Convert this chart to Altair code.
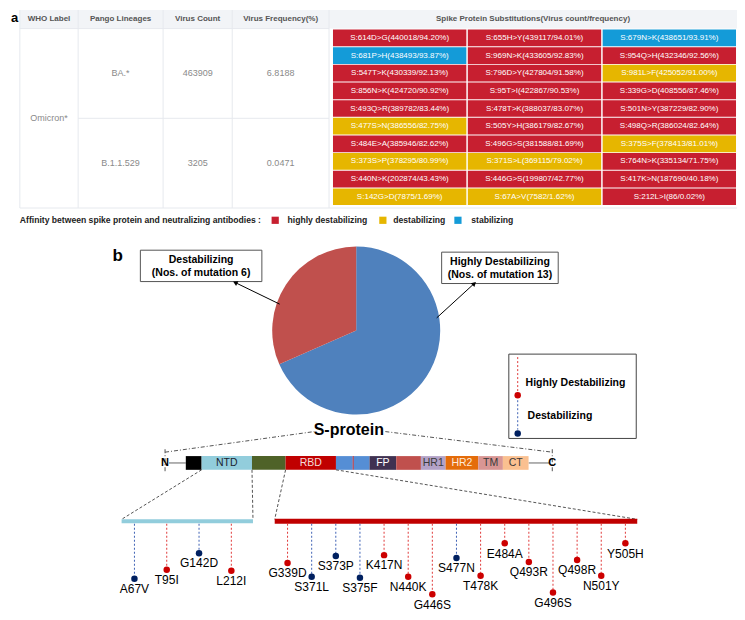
import altair as alt
import pandas as pd

# ---------------- data ----------------
TABLE_HEADERS = ["WHO Label", "Pango Lineages", "Virus Count", "Virus Frequency(%)"]
SPIKE_HEADER = "Spike Protein Substitutions(Virus count/frequency)"
WHO_LABEL = ["Omicron*"]
PANGO_LINEAGES = ["BA.*", "B.1.1.529"]
VIRUS_COUNT = [463909, 3205]
VIRUS_FREQUENCY = [6.8188, 0.0471]

SUBSTITUTIONS = ["S:614D>G", "S:655H>Y", "S:679N>K", "S:681P>H", "S:969N>K", "S:954Q>H",
                 "S:547T>K", "S:796D>Y", "S:981L>F", "S:856N>K", "S:95T>I", "S:339G>D",
                 "S:493Q>R", "S:478T>K", "S:501N>Y", "S:477S>N", "S:505Y>H", "S:498Q>R",
                 "S:484E>A", "S:496G>S", "S:375S>F", "S:373S>P", "S:371S>L", "S:764N>K",
                 "S:440N>K", "S:446G>S", "S:417K>N", "S:142G>D", "S:67A>V", "S:212L>I"]
SUB_COUNT = [440018, 439117, 438651, 438493, 433605, 432346, 430339, 427804, 425052, 424720,
             422867, 408556, 389782, 388037, 387229, 386556, 386179, 386024, 385946, 381588,
             378413, 378295, 369115, 335134, 202874, 199807, 187690, 7875, 7582, 86]
SUB_FREQ = [94.20, 94.01, 93.91, 93.87, 92.83, 92.56, 92.13, 91.58, 91.00, 90.92,
            90.53, 87.46, 83.44, 83.07, 82.90, 82.75, 82.67, 82.64, 82.62, 81.69,
            81.01, 80.99, 79.02, 71.75, 43.43, 42.77, 40.18, 1.69, 1.62, 0.02]
# H = highly destabilizing, D = destabilizing, S = stabilizing
SUB_AFFINITY = ["H", "H", "S", "S", "H", "H", "H", "H", "D", "H",
                "H", "H", "H", "H", "H", "D", "H", "H", "H", "H",
                "D", "D", "D", "H", "H", "H", "H", "D", "D", "H"]
AFFINITY_CODES = ["H", "D", "S"]
AFFINITY_NAMES = ["highly destabilizing", "destabilizing", "stabilizing"]
LEGEND_TITLE = "Affinity between spike protein and neutralizing antibodies :"

NTD_MUTATIONS = ["A67V", "T95I", "G142D", "L212I"]
NTD_CLASS = ["D", "H", "D", "H"]
RBD_MUTATIONS = ["G339D", "S371L", "S373P", "S375F", "K417N", "N440K", "G446S", "S477N",
                 "T478K", "E484A", "Q493R", "G496S", "Q498R", "N501Y", "Y505H"]
RBD_CLASS = ["H", "D", "D", "D", "H", "H", "H", "D", "H", "H", "H", "H", "H", "H", "H"]

PIE_NAMES = ["Highly Destabilizing", "Destabilizing"]
PIE_CODES = ["H", "D"]

DOMAIN_LABELS = ["", "NTD", "", "RBD", "", "", "", "FP", "", "HR1", "HR2", "TM", "CT"]

# ---------------- styles / layout ----------------
FONT = "Arial, Liberation Sans, sans-serif"
TABLE_COLORS = {"H": "#c71f30", "D": "#e6b600", "S": "#149bd8"}
PIE_COLORS = {"H": "#4f81bd", "D": "#c0504d"}
DOT_COLORS = {"H": "#cc0000", "D": "#002060"}
STEM_COLORS = {"H": "#e03a3a", "D": "#3f62b5"}
DOMAIN_WIDTHS = [16, 51, 34, 51, 17, 1, 16, 27, 25, 25, 33, 25, 26]
DOMAIN_FILL = ["#000000", "#92cddc", "#4f6228", "#c00000", "#558ed5", "#c00000", "#558ed5",
               "#403151", "#c0504d", "#b3a2c7", "#e46c0a", "#d99694", "#fac090"]
DOMAIN_TEXT = ["#000", "#1b2430", "#fff", "#f2dcdb", "#fff", "#fff", "#fff",
               "#ffffff", "#fff", "#3a3a3a", "#fde9d9", "#3a3a3a", "#3a3a3a"]
NTD_DOT_Y = [588, 579, 562, 580]
RBD_DOT_Y = [572, 586, 565, 587, 564, 586, 604, 567, 585, 552, 571, 602, 569, 585, 552]

X = alt.Scale(domain=[3, 741], nice=False, zero=False)
Y = alt.Scale(domain=[6, 622], nice=False, zero=False, reverse=True)


def rect_layer(df, **mk):
    enc = dict(x=alt.X("x0:Q", scale=X, axis=None), x2="x1:Q",
               y=alt.Y("y0:Q", scale=Y, axis=None), y2="y1:Q")
    if "fill" in df:
        enc["fill"] = alt.Fill("fill:N", scale=None)
    return alt.Chart(df).mark_rect(**mk).encode(**enc)


def seg_layer(df, **mk):
    enc = dict(x=alt.X("x0:Q", scale=X, axis=None), x2="x1:Q",
               y=alt.Y("y0:Q", scale=Y, axis=None), y2="y1:Q")
    if "color" in df:
        enc["color"] = alt.Color("color:N", scale=None)
    return alt.Chart(df).mark_rule(**mk).encode(**enc)


def text_layer(df, **mk):
    enc = dict(x=alt.X("x:Q", scale=X, axis=None), y=alt.Y("y:Q", scale=Y, axis=None),
               text="text:N")
    if "color" in df:
        enc["color"] = alt.Color("color:N", scale=None)
    mk.setdefault("font", FONT)
    return alt.Chart(df).mark_text(**mk).encode(**enc)


def point_layer(df, **mk):
    enc = dict(x=alt.X("x:Q", scale=X, axis=None), y=alt.Y("y:Q", scale=Y, axis=None))
    if "color" in df:
        enc["color"] = alt.Color("color:N", scale=None)
    if "ang" in df:
        enc["angle"] = alt.Angle("ang:Q", scale=None)
    return alt.Chart(df).mark_point(**mk).encode(**enc)


layers = []

# ---------- panel a: table ----------
COL_EDGES = [15, 74, 160, 230, 328]
TBL_RIGHT, HEAD_TOP, HEAD_BOT, BODY_BOT = 741, 8, 27, 210
ROW_SPLIT = (HEAD_BOT + BODY_BOT) / 2

layers.append(rect_layer(pd.DataFrame({"x0": [COL_EDGES[0]], "x1": [TBL_RIGHT],
                                       "y0": [HEAD_TOP], "y1": [HEAD_BOT]}), color="#f2f4f7"))

grid = pd.DataFrame({
    "x0": COL_EDGES + [COL_EDGES[0], COL_EDGES[1], COL_EDGES[0]],
    "x1": COL_EDGES + [COL_EDGES[-1], COL_EDGES[-1], TBL_RIGHT],
    "y0": [HEAD_TOP] * 5 + [HEAD_BOT, ROW_SPLIT, BODY_BOT],
    "y1": [BODY_BOT] * 5 + [HEAD_BOT, ROW_SPLIT, BODY_BOT],
})
layers.append(seg_layer(grid, color="#e6e9ee", strokeWidth=1))

col_centers = [(COL_EDGES[i] + COL_EDGES[i + 1]) / 2 for i in range(4)]
head_df = pd.DataFrame({"x": col_centers + [(COL_EDGES[-1] + TBL_RIGHT) / 2],
                        "y": [(HEAD_TOP + HEAD_BOT) / 2] * 5,
                        "text": TABLE_HEADERS + [SPIKE_HEADER]})
layers.append(text_layer(head_df, fontSize=8, fontWeight="bold", color="#555555"))

row_centers = [(HEAD_BOT + ROW_SPLIT) / 2, (ROW_SPLIT + BODY_BOT) / 2]
body_rows = [{"x": col_centers[0], "y": (HEAD_BOT + BODY_BOT) / 2, "text": WHO_LABEL[0]}]
for i in range(2):
    body_rows.append({"x": col_centers[1], "y": row_centers[i], "text": PANGO_LINEAGES[i]})
    body_rows.append({"x": col_centers[2], "y": row_centers[i], "text": str(VIRUS_COUNT[i])})
    body_rows.append({"x": col_centers[3], "y": row_centers[i], "text": f"{VIRUS_FREQUENCY[i]:.4f}"})
layers.append(text_layer(pd.DataFrame(body_rows), fontSize=9, color="#8a8a8a"))

CELL_X0, CELL_PX, CELL_W = 332, 136.5, 135
CELL_Y0, CELL_PY, CELL_H = 28, 18, 17
cells = []
for k, s in enumerate(SUBSTITUTIONS):
    r, c = divmod(k, 3)
    x0 = CELL_X0 + c * CELL_PX
    y0 = CELL_Y0 + r * CELL_PY
    cells.append({"x0": x0, "x1": x0 + CELL_W, "y0": y0, "y1": y0 + CELL_H,
                  "x": x0 + CELL_W / 2, "y": y0 + CELL_H / 2,
                  "fill": TABLE_COLORS[SUB_AFFINITY[k]],
                  "text": f"{s}({SUB_COUNT[k]}/{SUB_FREQ[k]:.2f}%)"})
cells = pd.DataFrame(cells)
layers.append(rect_layer(cells))
layers.append(text_layer(cells[["x", "y", "text"]], fontSize=8, color="white"))

# legend row
LEG_Y = 222.5
layers.append(text_layer(pd.DataFrame({"x": [15], "y": [LEG_Y], "text": [LEGEND_TITLE]}),
                         align="left", fontSize=8.6, fontWeight="bold", color="#222222"))
leg_sq_x = [273.5, 382.5, 458.5]
leg_tx_x = [286, 393, 472]
layers.append(point_layer(pd.DataFrame({"x": leg_sq_x, "y": [LEG_Y] * 3,
                                        "color": [TABLE_COLORS[c] for c in AFFINITY_CODES]}),
                          shape="square", filled=True, size=52, opacity=1))
layers.append(text_layer(pd.DataFrame({"x": leg_tx_x, "y": [LEG_Y] * 3, "text": AFFINITY_NAMES}),
                         align="left", fontSize=8.6, fontWeight="bold", color="#222222"))

# panel letters
layers.append(text_layer(pd.DataFrame({"x": [6], "y": [16], "text": ["a"]}),
                         align="left", fontSize=13, fontWeight="bold", color="black"))
layers.append(text_layer(pd.DataFrame({"x": [114], "y": [259], "text": ["b"]}),
                         fontSize=17, fontWeight="bold", color="black"))

# ---------- panel b: pie ----------
all_class = NTD_CLASS + RBD_CLASS
pie_counts = [sum(1 for c in all_class if c == code) for code in PIE_CODES]
PIE_CX, PIE_CY = 355.5, 335
pie_df = pd.DataFrame({"name": PIE_NAMES, "n": pie_counts, "rank": [0, 1],
                       "fill": [PIE_COLORS[c] for c in PIE_CODES],
                       "cx": [PIE_CX] * 2, "cy": [PIE_CY] * 2})
layers.append(alt.Chart(pie_df).mark_arc(radius=84).encode(
    theta=alt.Theta("n:Q", stack=True),
    order=alt.Order("rank:Q"),
    fill=alt.Fill("fill:N", scale=None),
    x=alt.X("cx:Q", scale=X, axis=None),
    y=alt.Y("cy:Q", scale=Y, axis=None),
))

boxes = pd.DataFrame({"x0": [442, 137], "x1": [560, 260], "y0": [255, 253], "y1": [287, 285]})
layers.append(rect_layer(boxes, fill="white", stroke="#555555", strokeWidth=1))
box_txt = []
for i, (name, n) in enumerate(zip(PIE_NAMES, pie_counts)):
    b = boxes.iloc[i]
    cx = (b.x0 + b.x1) / 2
    box_txt.append({"x": cx, "y": b.y0 + 10, "text": name})
    box_txt.append({"x": cx, "y": b.y0 + 23, "text": f"(Nos. of mutation {n})"})
layers.append(text_layer(pd.DataFrame(box_txt), fontSize=10.5, fontWeight="bold", color="black"))

arrows = pd.DataFrame({"x0": [437, 278], "y0": [322, 308], "x1": [475, 233], "y1": [287, 286]})
layers.append(seg_layer(arrows, color="black", strokeWidth=1))
heads = pd.DataFrame({"x": [475, 233], "y": [287, 286], "ang": [47, 296]})
layers.append(point_layer(heads, shape="triangle-up", filled=True, size=28, color="black", opacity=1))

# S-protein title and dash-dot guides
layers.append(text_layer(pd.DataFrame({"x": [348], "y": [436], "text": ["S-protein"]}),
                         fontSize=16, fontWeight="bold", color="black"))
N_X, C_X, BAR_Y0, BAR_Y1 = 162, 554, 463, 477
guides = pd.DataFrame({"x0": [N_X, 385, N_X, C_X], "y0": [459, 438, 456, 456],
                       "x1": [313, C_X, N_X, C_X], "y1": [438, 459, 480, 480]})
layers.append(seg_layer(guides, color="#555555", strokeWidth=1, strokeDash=[4, 2, 1, 2]))

# protein backbone and domains
DOM_START = 183
edges = [DOM_START]
for w in DOMAIN_WIDTHS:
    edges.append(edges[-1] + w)
layers.append(seg_layer(pd.DataFrame({"x0": [N_X + 4, edges[-1]], "x1": [edges[0], C_X - 3],
                                      "y0": [470, 470], "y1": [470, 470]}),
                        color="#7f7f7f", strokeWidth=1.2))
dom = pd.DataFrame({"x0": edges[:-1], "x1": edges[1:], "y0": [BAR_Y0] * 13, "y1": [BAR_Y1] * 13,
                    "fill": DOMAIN_FILL})
layers.append(rect_layer(dom))
dom_lab = pd.DataFrame({"x": [(edges[i] + edges[i + 1]) / 2 for i in range(13)],
                        "y": [470.5] * 13, "text": DOMAIN_LABELS, "color": DOMAIN_TEXT})
dom_lab = dom_lab[dom_lab.text != ""]
layers.append(text_layer(dom_lab, fontSize=10.5))
layers.append(text_layer(pd.DataFrame({"x": [N_X, C_X], "y": [470, 470], "text": ["N", "C"]}),
                         fontSize=11, fontWeight="bold", color="black"))

# zoom bars
NTD_IDX, RBD_IDX = DOMAIN_LABELS.index("NTD"), DOMAIN_LABELS.index("RBD")
ZB_Y = 529.5
NTD_ZOOM = (118, 251)
RBD_ZOOM = (273, 640)
zoom_lines = pd.DataFrame({
    "x0": [edges[NTD_IDX], edges[NTD_IDX + 1], edges[RBD_IDX], edges[RBD_IDX + 1]],
    "y0": [BAR_Y1] * 4,
    "x1": [NTD_ZOOM[0], NTD_ZOOM[1], RBD_ZOOM[0], RBD_ZOOM[1]],
    "y1": [ZB_Y - 2] * 4})
layers.append(seg_layer(zoom_lines, color="#555555", strokeWidth=1, strokeDash=[3, 2]))
layers.append(seg_layer(pd.DataFrame({"x0": [NTD_ZOOM[0]], "x1": [NTD_ZOOM[1]],
                                      "y0": [ZB_Y], "y1": [ZB_Y]}), color="#92cddc", strokeWidth=4))
layers.append(seg_layer(pd.DataFrame({"x0": [RBD_ZOOM[0]], "x1": [RBD_ZOOM[1]],
                                      "y0": [ZB_Y], "y1": [ZB_Y]}), color="#c00000", strokeWidth=5))

# lollipops
lol = []
ntd_step = 32.7
for i, (m, c) in enumerate(zip(NTD_MUTATIONS, NTD_CLASS)):
    lol.append({"x": 131 + i * ntd_step, "y": NTD_DOT_Y[i], "text": m, "cls": c})
rbd_step = (628 - 286) / (len(RBD_MUTATIONS) - 1)
for i, (m, c) in enumerate(zip(RBD_MUTATIONS, RBD_CLASS)):
    lol.append({"x": 286 + i * rbd_step, "y": RBD_DOT_Y[i], "text": m, "cls": c})
lol = pd.DataFrame(lol)
stems = pd.DataFrame({"x0": lol.x, "x1": lol.x, "y0": ZB_Y + 2.5, "y1": lol.y - 3,
                      "color": [STEM_COLORS[c] for c in lol.cls]})
layers.append(seg_layer(stems, strokeWidth=1, strokeDash=[2, 2]))
layers.append(point_layer(pd.DataFrame({"x": lol.x, "y": lol.y,
                                        "color": [DOT_COLORS[c] for c in lol.cls]}),
                          shape="circle", filled=True, size=42, opacity=1))
layers.append(text_layer(pd.DataFrame({"x": lol.x, "y": lol.y + 10.5, "text": lol.text}),
                         fontSize=12, color="black"))

# lollipop legend box
layers.append(rect_layer(pd.DataFrame({"x0": [510], "x1": [639], "y0": [359], "y1": [445]}),
                         fill="white", stroke="#444444", strokeWidth=1))
LG_X = 519
lg_stems = pd.DataFrame({"x0": [LG_X, LG_X], "x1": [LG_X, LG_X], "y0": [362, 406], "y1": [397, 436],
                         "color": [STEM_COLORS["H"], STEM_COLORS["D"]]})
layers.append(seg_layer(lg_stems, strokeWidth=1, strokeDash=[2, 2]))
layers.append(point_layer(pd.DataFrame({"x": [LG_X, LG_X], "y": [401, 440],
                                        "color": [DOT_COLORS["H"], DOT_COLORS["D"]]}),
                          shape="circle", filled=True, size=42, opacity=1))
layers.append(text_layer(pd.DataFrame({"x": [527, 529], "y": [388, 422],
                                       "text": PIE_NAMES}),
                         align="left", fontSize=10.5, fontWeight="bold", color="black"))

chart = alt.layer(*layers).properties(
    width=729, height=604, padding=0,
    autosize=alt.AutoSizeParams(type="none"),
    background="white",
).configure_view(strokeWidth=0)

chart.save("out.html", embed_options={"renderer": "svg", "actions": False})
